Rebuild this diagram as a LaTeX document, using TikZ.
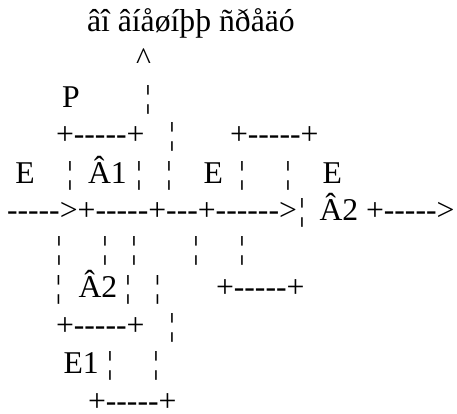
\documentclass[tikz,border=0pt]{standalone}
\usepackage{fontspec}
\setmainfont[Ligatures=TeXOff]{Liberation Serif}
\begin{document}
\begin{tikzpicture}[x=1pt,y=-1pt,
  every node/.style={inner sep=0pt,outer sep=0pt,font=\fontsize{31.7}{38}\selectfont},
  txt/.style={anchor=base west},
  bar/.style={anchor=base}]
\fill[white] (0,0) rectangle (457,414);
\useasboundingbox (0,0) rectangle (457,414);
% line 0
\node[txt] (title) at (87,32) {âî âíåøíþþ ñðåäó};
% line 1
\node[bar] (caret) at (143.5,70) {\textasciicircum};
% line 2
\node[txt] (P) at (62,108) {P};
\node[bar] (b2a) at (148,108) {¦};
% line 3
\node[txt] (boxA1top) at (56,145) {+-----+};
\node[bar] (b3a) at (172,145) {¦};
\node[txt] (boxEtop) at (230,145) {+-----+};
% line 4
\node[txt] (E1l) at (15.5,183) {E};
\node[bar] (b4a) at (70,183) {¦};
\node[txt] (A1) at (88,183) {Â1};
\node[bar] (b4b) at (139,183) {¦};
\node[bar] (b4c) at (169,183) {¦};
\node[txt] (E2l) at (203.5,183) {E};
\node[bar] (b4d) at (242,183) {¦};
\node[bar] (b4e) at (288,183) {¦};
\node[txt] (E3l) at (322.5,183) {E};
% line 5
\node[txt] (arrow) at (7,220) {----->+-----+---+------>};
\node[bar] (b5a) at (302,220) {¦};
\node[txt] (A2r) at (319.5,220) {Â2};
\node[txt] (outarrow) at (366,220) {+----->};
% line 6
\node[bar] (b6a) at (59,258) {¦};
\node[bar] (b6b) at (105,258) {¦};
\node[bar] (b6c) at (134,258) {¦};
\node[bar] (b6d) at (196,258) {¦};
\node[bar] (b6e) at (242,258) {¦};
% line 7
\node[bar] (b7a) at (58.5,297) {¦};
\node[txt] (A2b) at (78.5,297) {Â2};
\node[bar] (b7b) at (128,297) {¦};
\node[bar] (b7c) at (157.5,297) {¦};
\node[txt] (boxEbot) at (216,297) {+-----+};
% line 8
\node[txt] (boxA2bot) at (56,335) {+-----+};
\node[bar] (b8a) at (172,335) {¦};
% line 9
\node[txt] (E1) at (63.5,373) {E1};
\node[bar] (b9a) at (110,373) {¦};
\node[bar] (b9b) at (156,373) {¦};
% line 10
\node[txt] (boxE1bot) at (88,411) {+-----+};
\end{tikzpicture}
\end{document}
